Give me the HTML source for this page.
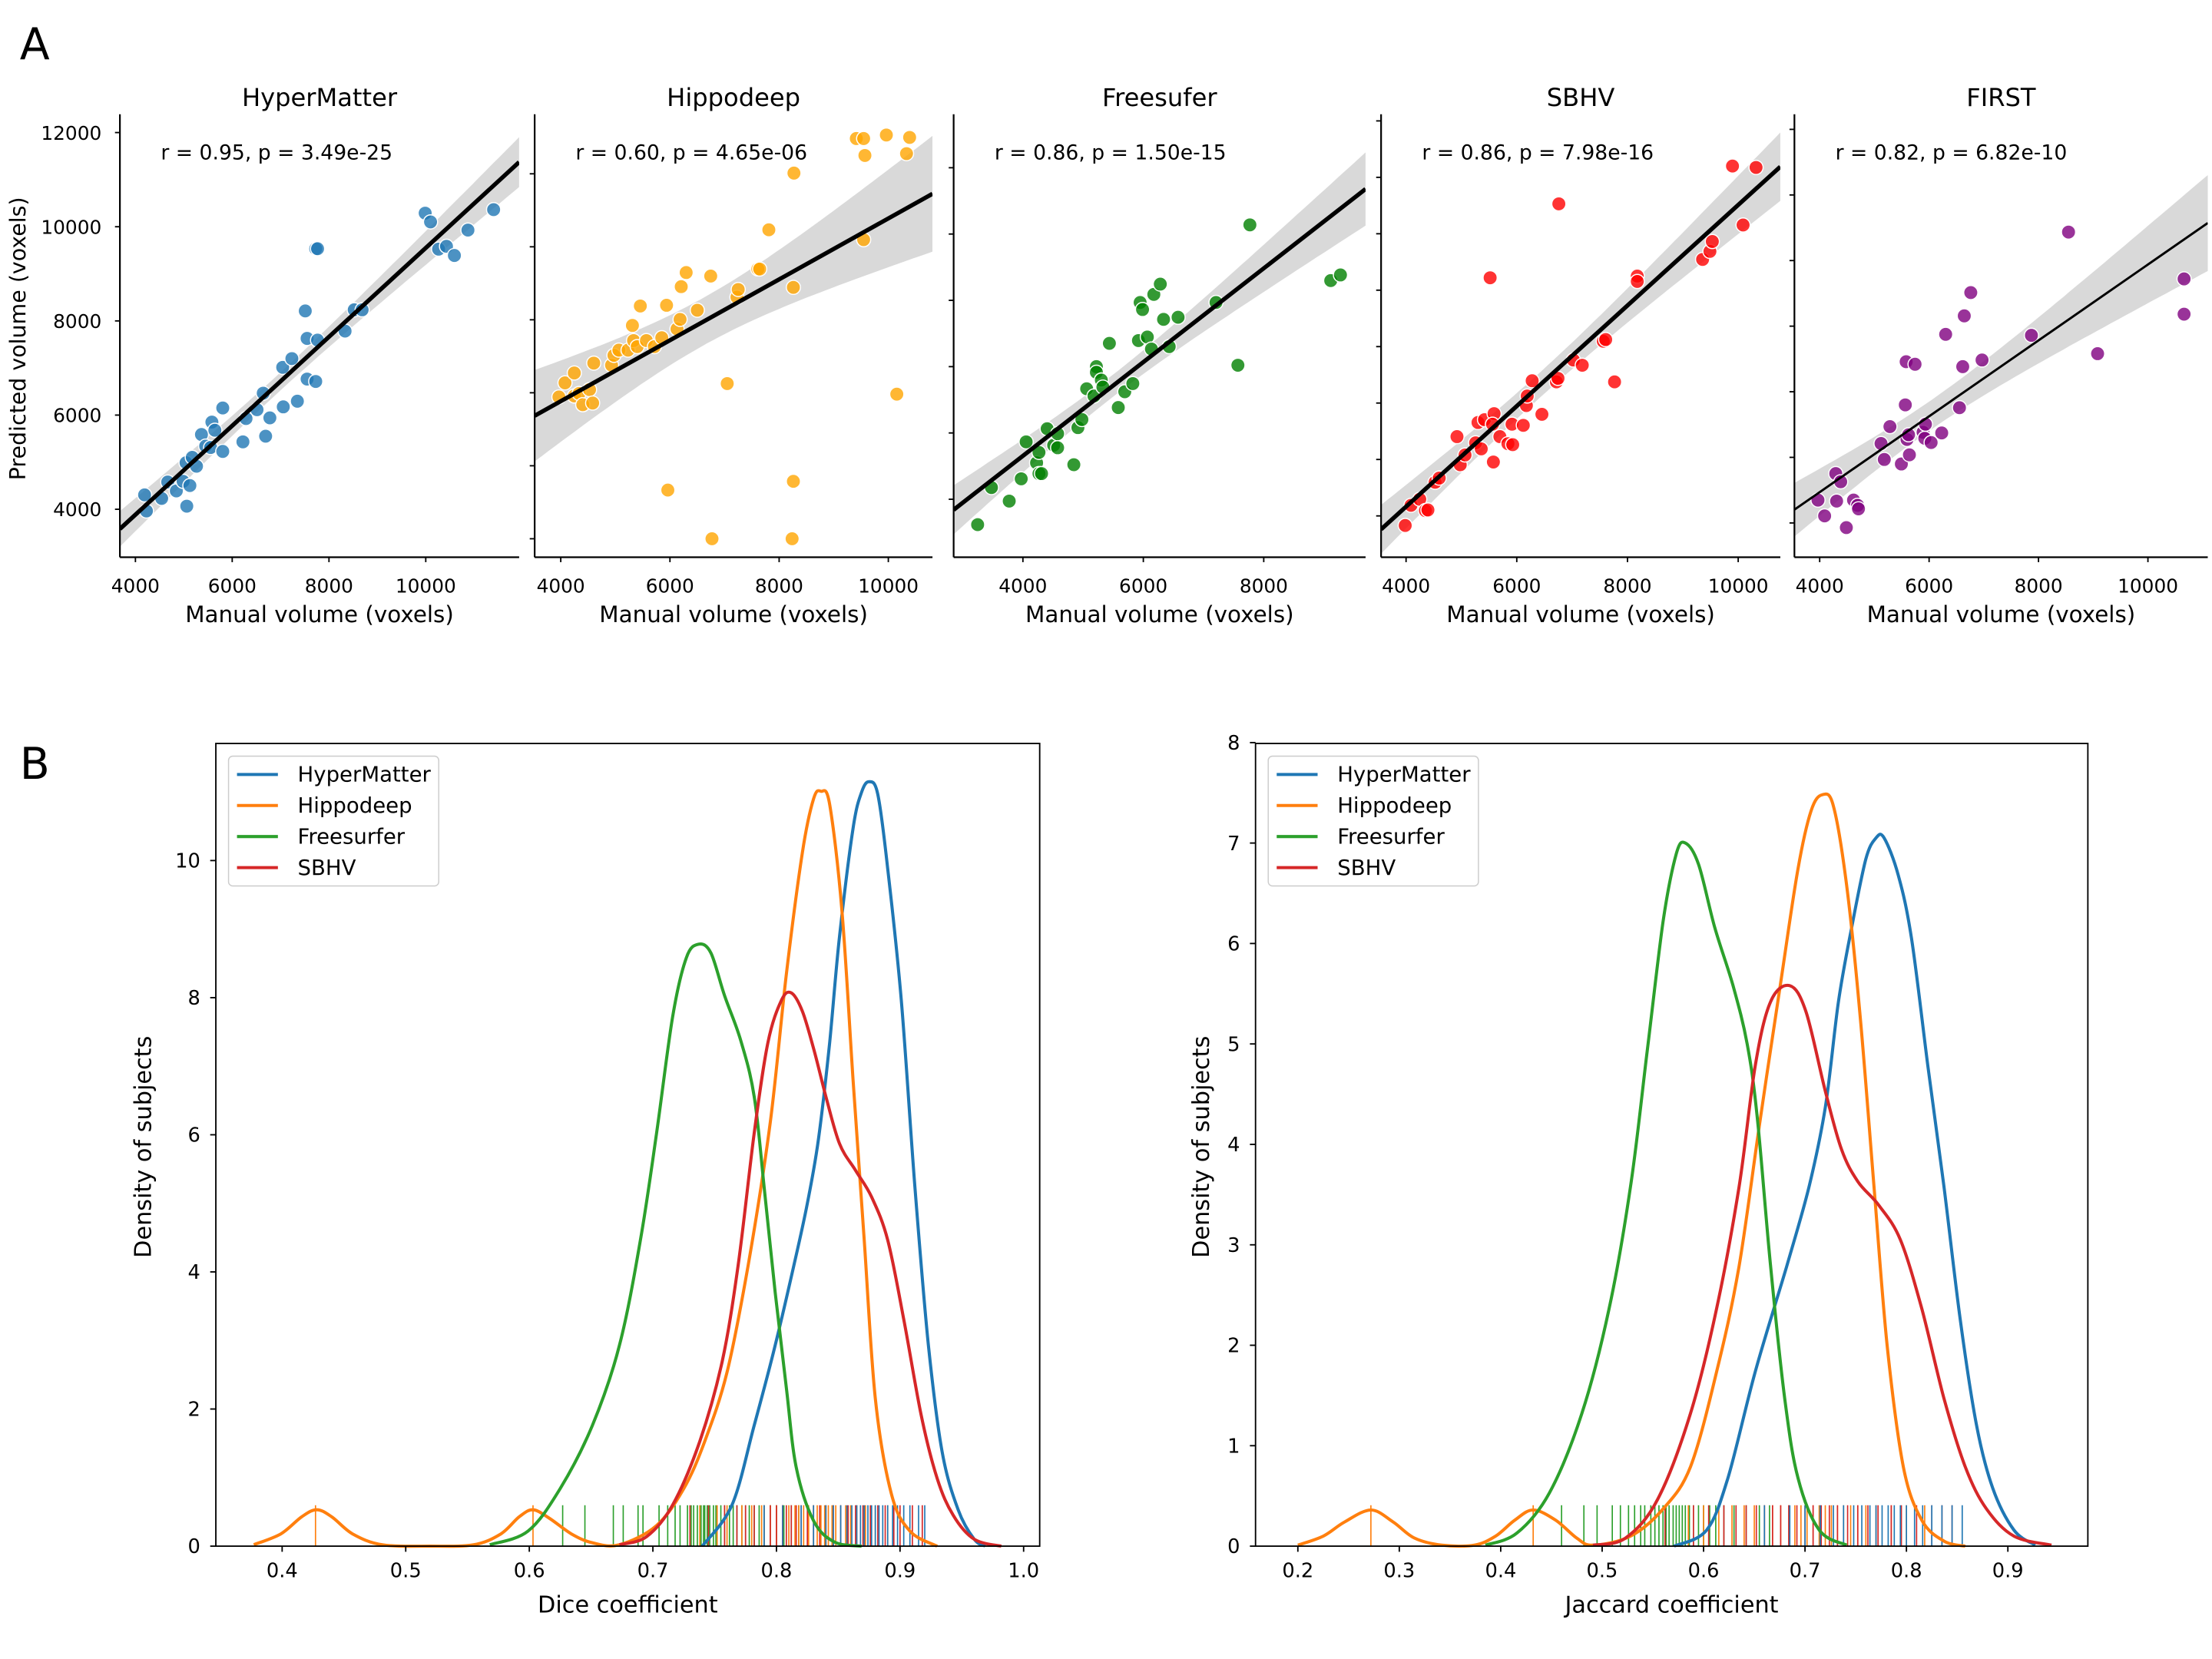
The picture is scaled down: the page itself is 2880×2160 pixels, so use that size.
<!DOCTYPE html>
<html><head><meta charset="utf-8">
<style>
html,body{margin:0;padding:0;background:#fff;}
svg{display:block;}
text{font-family:"DejaVu Sans","Liberation Sans",sans-serif;fill:#000;}
</style></head>
<body>
<svg id="fig" width="2880" height="2160" viewBox="0 0 1568 1176" xmlns="http://www.w3.org/2000/svg">
<rect width="1568" height="1176" fill="#fff"/>
<text x="14" y="42" font-size="31">A</text>
<text x="14" y="552" font-size="31">B</text>
<text transform="translate(18,240) rotate(-90)" text-anchor="middle" font-size="15.5">Predicted volume (voxels)</text>
<g id="pa"></g>
<g id="pb"></g>
</svg>
<script>
// ---------- Panel A data ----------
const titles=["HyperMatter","Hippodeep","Freesufer","SBHV","FIRST"];
const statsText=["r = 0.95, p = 3.49e-25","r = 0.60, p = 4.65e-06","r = 0.86, p = 1.50e-15","r = 0.86, p = 7.98e-16","r = 0.82, p = 6.82e-10"];
const hmX=[4190,4227,4543,4669,4846,4985,5061,5124,5048,5175,5263,5364,5453,5553,5579,5642,5806,5806,6223,6286,6513,6640,6690,6779,7044,7056,7233,7347,7511,7549,7549,7726,7764,7726,7764,8332,8521,8686,9987,10100,10264,10429,10593,10871,11401];
const hmY=[4307,3963,4232,4577,4390,4592,4067,4502,4990,5102,4915,5589,5342,5312,5852,5679,6151,5229,5432,5927,6114,6466,5552,5941,7013,6174,7201,6294,8213,6766,7628,6714,7591,9532,9532,7785,8235,8235,10289,10102,9525,9585,9390,9929,10364];
const hdX=[3966,4078,4247,4247,4336,4404,4527,4583,4605,4930,4975,5065,5233,5312,5334,5401,5457,5569,5715,5850,5939,6130,6186,6208,6298,6500,6746,7049,5962,6769,7228,7251,7610,7643,7811,8237,8260,8260,8271,9414,9549,9571,9549,9964,10154,10334,10390];
const hdY=[7884,8270,8541,7913,7981,7672,8087,7720,8812,8754,9024,9169,9169,9845,9430,9266,10377,9430,9266,9507,10396,9749,10010,10908,11295,10261,11198,8251,5333,4000,10618,10831,11391,11391,12464,4000,5575,10889,14020,14967,14967,14503,12193,15064,7961,14551,14996];
const fsX=[3248,3477,3772,3973,4054,4228,4268,4268,4309,4403,4510,4577,4577,4845,4913,4980,5060,5181,5221,5221,5302,5329,5584,5691,5825,5436,5919,6067,6134,5946,5986,6174,6281,6335,6577,6429,7207,7570,7771,9113,9274];
const fsY=[3617,4176,3973,4309,4867,4548,4707,4388,4388,5064,4814,4777,4989,4521,5080,5202,5665,5558,6000,5915,5798,5691,5383,5622,5745,6351,6394,6447,6266,6968,6862,7090,7245,6713,6745,6303,6968,6021,8138,7298,7383];
const sbX=[3985,4088,4248,4350,4394,4526,4599,4920,4978,5066,5256,5299,5358,5416,5591,5562,5577,5694,5840,5927,5913,6117,6175,6190,6278,6453,6716,6745,7022,7183,7562,7606,7767,8176,8176,5518,6759,9358,9490,9533,10088,9898,10322];
const sbY=[3831,4188,4294,4094,4106,4594,4669,5406,4906,5081,5294,5656,5188,5706,5813,5625,4956,5406,5281,5263,5625,5606,5956,6125,6394,5800,6375,6438,6763,6669,7094,7125,6375,8250,8156,8219,9531,8544,8688,8863,9156,10200,10175];
const fiX=[3970,4089,4295,4310,4384,4487,4620,4694,4709,5123,5182,5285,5492,5566,5595,5639,5625,5580,5743,5891,5920,5935,6038,6230,6304,6555,6614,6644,6762,6969,7870,8549,9081,10661,10661];
const fiY=[4349,4108,4753,4333,4629,3930,4349,4269,4215,5210,4968,5468,4898,5801,5274,5038,5344,6457,6419,5382,5290,5505,5226,5371,6876,5758,6382,7156,7511,6484,6860,8435,6581,7720,7183];
const yTickVals=[4000,6000,8000,10000,12000];
const xTickLabels=[["4000","6000","8000","10000"],["4000","6000","8000","10000"],["4000","6000","8000"],["4000","6000","8000","10000"],["4000","6000","8000","10000"]];

// ---------- Panel B data ----------
const methods=["HyperMatter","Hippodeep","Freesurfer","SBHV"];
const diceBlueX=[0.740,0.764,0.782,0.799,0.814,0.825,0.834,0.843,0.851,0.862,0.869,0.875,0.882,0.890,0.901,0.912,0.923,0.934,0.947,0.960,0.969];
const diceBlueY=[0,0.6,1.76,2.93,4.09,5.0,5.94,7.34,8.89,10.47,11.0,11.15,10.97,9.89,7.96,5.25,2.93,1.38,0.53,0.1,0];
const diceOrangeX=[0.377,0.399,0.416,0.428,0.440,0.457,0.481,0.52,0.555,0.577,0.592,0.603,0.616,0.634,0.651,0.673,0.703,0.725,0.742,0.760,0.777,0.795,0.808,0.821,0.830,0.836,0.843,0.853,0.862,0.871,0.880,0.893,0.908,0.930];
const diceOrangeY=[0.02,0.18,0.43,0.53,0.43,0.18,0.02,0,0.02,0.18,0.43,0.53,0.41,0.18,0.05,0.02,0.3,0.84,1.53,2.54,4.09,6.18,8.34,10.12,10.9,11.01,10.82,9.27,6.8,4.47,2.15,0.76,0.22,0];
const diceGreenX=[0.568,0.599,0.625,0.651,0.673,0.690,0.703,0.716,0.727,0.737,0.747,0.758,0.771,0.782,0.790,0.799,0.808,0.816,0.830,0.847,0.869];
const diceGreenY=[0.02,0.22,0.84,1.76,2.93,4.47,6.02,7.72,8.58,8.78,8.65,8.03,7.38,6.56,5.25,3.7,2.31,1.15,0.37,0.06,0];
const diceRedX=[0.673,0.695,0.716,0.738,0.756,0.769,0.782,0.793,0.804,0.812,0.821,0.830,0.840,0.851,0.864,0.877,0.890,0.903,0.917,0.930,0.943,0.960,0.982];
const diceRedY=[0.02,0.14,0.6,1.53,2.69,4.09,6.02,7.34,7.96,8.07,7.8,7.26,6.56,5.87,5.48,5.09,4.47,3.31,1.92,0.99,0.45,0.1,0];
const jacBlueX=[0.571,0.603,0.624,0.651,0.682,0.704,0.720,0.733,0.746,0.760,0.770,0.778,0.792,0.805,0.821,0.837,0.853,0.869,0.885,0.906,0.927];
const jacBlueY=[0,0.16,0.68,1.74,2.79,3.58,4.37,5.42,6.16,6.84,7.05,7.05,6.68,6.05,4.79,3.58,2.26,1.21,0.58,0.16,0.01];
const jacOrangeX=[0.2,0.225,0.246,0.272,0.294,0.315,0.342,0.374,0.395,0.414,0.432,0.454,0.475,0.491,0.528,0.560,0.587,0.613,0.635,0.656,0.677,0.693,0.706,0.717,0.728,0.741,0.754,0.768,0.781,0.797,0.815,0.837,0.858];
const jacOrangeY=[0.01,0.1,0.24,0.36,0.24,0.08,0.01,0.01,0.1,0.26,0.36,0.26,0.08,0.01,0.1,0.37,0.79,1.74,2.79,4.26,5.68,6.74,7.32,7.48,7.37,6.58,5.32,3.58,2.0,0.79,0.26,0.05,0];
const jacGreenX=[0.385,0.416,0.448,0.480,0.507,0.528,0.544,0.560,0.573,0.582,0.595,0.611,0.629,0.643,0.653,0.666,0.680,0.693,0.714,0.741];
const jacGreenY=[0.01,0.13,0.53,1.32,2.37,3.58,4.89,6.21,6.89,7.0,6.79,6.16,5.58,5.0,4.26,2.79,1.47,0.68,0.16,0.01];
const jacRedX=[0.491,0.523,0.555,0.587,0.613,0.635,0.651,0.666,0.685,0.701,0.720,0.736,0.752,0.773,0.794,0.815,0.837,0.858,0.879,0.906,0.943];
const jacRedY=[0.01,0.08,0.47,1.32,2.37,3.58,4.79,5.42,5.58,5.32,4.53,3.95,3.63,3.39,3.05,2.37,1.47,0.79,0.37,0.1,0.01];
const rugDiceGreen=[0.627,0.645,0.668,0.676,0.688,0.692,0.705,0.712,0.718,0.722,0.728,0.731,0.733,0.736,0.739,0.741,0.742,0.744,0.746,0.749,0.751,0.755,0.758,0.762,0.765,0.768,0.772,0.775,0.778,0.782,0.786,0.79,0.795,0.8,0.806,0.812,0.818];
const rugDiceOrange=[0.427,0.603,0.738,0.752,0.76,0.772,0.78,0.788,0.795,0.8,0.805,0.81,0.815,0.818,0.822,0.826,0.83,0.833,0.836,0.839,0.842,0.845,0.848,0.852,0.856,0.86,0.865,0.872,0.88,0.89];
const rugDiceRed=[0.73,0.745,0.758,0.768,0.775,0.782,0.79,0.795,0.8,0.805,0.808,0.812,0.816,0.82,0.825,0.83,0.835,0.84,0.846,0.852,0.858,0.864,0.87,0.876,0.882,0.888,0.895,0.9,0.91,0.918];
const rugDiceBlue=[0.79,0.805,0.82,0.83,0.84,0.846,0.852,0.857,0.861,0.865,0.868,0.871,0.874,0.877,0.88,0.883,0.886,0.89,0.894,0.898,0.903,0.908,0.915,0.92];
const rugJacGreen=[0.46,0.482,0.495,0.51,0.518,0.526,0.532,0.538,0.542,0.548,0.552,0.556,0.56,0.563,0.566,0.57,0.573,0.576,0.579,0.582,0.586,0.59,0.595,0.6,0.606,0.612,0.62,0.63,0.642,0.655,0.665];
const rugJacOrange=[0.272,0.432,0.585,0.6,0.615,0.628,0.64,0.65,0.66,0.668,0.676,0.684,0.69,0.696,0.702,0.708,0.714,0.72,0.726,0.732,0.738,0.745,0.752,0.76,0.77,0.785,0.8,0.818];
const rugJacRed=[0.562,0.59,0.605,0.62,0.632,0.642,0.652,0.66,0.668,0.676,0.684,0.692,0.7,0.708,0.716,0.724,0.732,0.742,0.752,0.762,0.772,0.785,0.795,0.81,0.825,0.835,0.845];
const rugJacBlue=[0.66,0.685,0.7,0.715,0.728,0.738,0.748,0.756,0.764,0.77,0.776,0.782,0.788,0.794,0.8,0.808,0.816,0.825,0.835,0.845,0.855];
const diceTicks=["0.4","0.5","0.6","0.7","0.8","0.9","1.0"];
const diceYTicks=["0","2","4","6","8","10"];
const jacTicks=["0.2","0.3","0.4","0.5","0.6","0.7","0.8","0.9"];
const jacYTicks=["0","1","2","3","4","5","6","7","8"];

const NS="http://www.w3.org/2000/svg";
function mk(tag,attrs,parent){const e=document.createElementNS(NS,tag);for(const k in attrs)e.setAttribute(k,attrs[k]);if(parent)parent.appendChild(e);return e;}

// ---------- Panel A ----------
const pa=document.getElementById('pa');
const panels=[
 {xs:hmX,ys:hmY,col:"#1f77b4",left:85,right:368,x0:96,xk:0.0343,y0:361,yk:0.03338,yStep:2000,lw:3},
 {xs:hdX,ys:hdY,col:"#ffa500",left:379,right:661,x0:397.5,xk:0.0387,y0:381.9,yk:0.02587,yStep:2000,lw:3},
 {xs:fsX,ys:fsY,col:"#008000",left:676,right:968,x0:725.1,xk:0.04268,y0:353.9,yk:0.0470,yStep:1000,lw:3},
 {xs:sbX,ys:sbY,col:"#ff0000",left:979,right:1262,x0:996.7,xk:0.03924,y0:365.7,yk:0.0400,yStep:1000,lw:3},
 {xs:fiX,ys:fiY,col:"#800080",left:1272,right:1565,x0:1289.9,xk:0.03878,y0:370.7,yk:0.0465,yStep:1000,lw:1.6}
];
const TOP=81,BOT=395;
panels.forEach((p,i)=>{
  const g=mk('g',{},pa);
  
  
  const X=v=>p.x0+(v-4000)*p.xk, Y=v=>p.y0-(v-4000)*p.yk;
  const vx=px=>4000+(px-p.x0)/p.xk;
  const cid='clip'+i;
  const cp=mk('clipPath',{id:cid},g);mk('rect',{x:p.left,y:TOP,width:p.right-p.left,height:BOT-TOP},cp);
  const n=p.xs.length;let mx=0,my=0;for(let k=0;k<n;k++){mx+=p.xs[k];my+=p.ys[k];}mx/=n;my/=n;
  let sxx=0,sxy=0;for(let k=0;k<n;k++){sxx+=(p.xs[k]-mx)**2;sxy+=(p.xs[k]-mx)*(p.ys[k]-my);}
  const b=sxy/sxx,a=my-b*mx;let sse=0;for(let k=0;k<n;k++){sse+=(p.ys[k]-a-b*p.xs[k])**2;}
  const s=Math.sqrt(sse/(n-2));
  const xa=vx(p.left),xb=vx(p.right);
  let up=[],lo=[];
  for(let k=0;k<=60;k++){const xv=xa+(xb-xa)*k/60;const se=2.02*s*Math.sqrt(1/n+(xv-mx)**2/sxx);const yv=a+b*xv;up.push(X(xv).toFixed(1)+','+Y(yv+se).toFixed(1));lo.unshift(X(xv).toFixed(1)+','+Y(yv-se).toFixed(1));}
  const band=mk('polygon',{points:up.concat(lo).join(' '),fill:'#d9d9d9','clip-path':'url(#'+cid+')'},g);
  
  
  for(let k=0;k<n;k++){
    const c=mk('circle',{cx:X(p.xs[k]).toFixed(1),cy:Y(p.ys[k]).toFixed(1),r:5,fill:p.col,'fill-opacity':0.8,stroke:'#fff','stroke-width':0.8,'clip-path':'url(#'+cid+')'},g);
    
    
  }
  const ln=mk('line',{x1:X(xa),y1:Y(a+b*xa),x2:X(xb),y2:Y(a+b*xb),stroke:'#000','stroke-width':p.lw,'clip-path':'url(#'+cid+')'},g);
  
  
  mk('line',{x1:p.left,y1:TOP,x2:p.left,y2:BOT,stroke:'#000','stroke-width':1.2},g);
  mk('line',{x1:p.left,y1:BOT,x2:p.right,y2:BOT,stroke:'#000','stroke-width':1.2},g);
  for(let v=2000;v<=16000;v+=p.yStep){const y=Y(v);if(y<TOP||y>BOT)continue;mk('line',{x1:p.left-3.5,y1:y,x2:p.left,y2:y,stroke:'#000','stroke-width':1},g);}
  if(i===0){yTickVals.forEach(v=>{const t=mk('text',{x:72,y:Y(v)+5,'text-anchor':'end','font-size':13.5},g);t.textContent=v;});}
  xTickLabels[i].forEach(lbl=>{const x=X(+lbl);mk('line',{x1:x,y1:BOT,x2:x,y2:BOT+3.5,stroke:'#000','stroke-width':1},g);const t=mk('text',{x:x,y:BOT+25,'text-anchor':'middle','font-size':13.5},g);t.textContent=lbl;});
  const cx=(p.left+p.right)/2;
  const tl=mk('text',{x:cx,y:75,'text-anchor':'middle','font-size':17.5},g);tl.textContent=titles[i];
  
  
  const xl=mk('text',{x:cx,y:441,'text-anchor':'middle','font-size':16},g);xl.textContent='Manual volume (voxels)';
  
  
  const st=mk('text',{x:p.left+29,y:113,'font-size':14.5},g);st.textContent=statsText[i];
  
  
});

// ---------- Panel B ----------
const pb=document.getElementById('pb');
const colors=["#1f77b4","#ff7f0e","#2ca02c","#d62728"];
function smooth(pts){let d='M'+pts[0][0].toFixed(1)+','+pts[0][1].toFixed(1);
 for(let i=0;i<pts.length-1;i++){const p0=pts[i-1]||pts[i],p1=pts[i],p2=pts[i+1],p3=pts[i+2]||p2;
  const c1=[p1[0]+(p2[0]-p0[0])/6,p1[1]+(p2[1]-p0[1])/6],c2=[p2[0]-(p3[0]-p1[0])/6,p2[1]-(p3[1]-p1[1])/6];
  d+='C'+c1[0].toFixed(1)+','+c1[1].toFixed(1)+' '+c2[0].toFixed(1)+','+c2[1].toFixed(1)+' '+p2[0].toFixed(1)+','+p2[1].toFixed(1);}
 return d;}
const kdePlots=[
 {left:153,right:737,top:527,bot:1096,x0:200,xv0:0.4,xk:876,yk:48.6,xt:diceTicks,yt:diceYTicks,ylab:107,xlab:'Dice coefficient',
  curves:[[diceBlueX,diceBlueY],[diceOrangeX,diceOrangeY],[diceGreenX,diceGreenY],[diceRedX,diceRedY]],
  rugs:[rugDiceGreen,rugDiceOrange,rugDiceRed,rugDiceBlue],rugCols:[2,1,3,0],name:'dice'},
 {left:890,right:1480,top:527,bot:1096,x0:920,xv0:0.2,xk:719,yk:71.2,xt:jacTicks,yt:jacYTicks,ylab:857,xlab:'Jaccard coefficient',
  curves:[[jacBlueX,jacBlueY],[jacOrangeX,jacOrangeY],[jacGreenX,jacGreenY],[jacRedX,jacRedY]],
  rugs:[rugJacGreen,rugJacOrange,rugJacRed,rugJacBlue],rugCols:[2,1,3,0],name:'jaccard'}
];
kdePlots.forEach(P=>{
  const g=mk('g',{},pb);
  
  
  const X=v=>P.x0+(v-P.xv0)*P.xk, Y=v=>P.bot-v*P.yk;
  P.rugs.forEach((arr,ri)=>{arr.forEach(v=>{const r=mk('line',{x1:X(v),y1:P.bot,x2:X(v),y2:P.bot-29,stroke:colors[P.rugCols[ri]],'stroke-width':0.9},g);});});
  P.curves.forEach((c,ci)=>{const pts=c[0].map((x,k)=>[X(x),Y(c[1][k])]);
    const pth=mk('path',{d:smooth(pts),fill:'none',stroke:colors[ci],'stroke-width':2.2,'stroke-linejoin':'round'},g);
    
    });
  mk('rect',{x:P.left,y:P.top,width:P.right-P.left,height:P.bot-P.top,fill:'none',stroke:'#000','stroke-width':1},g);
  P.xt.forEach(l=>{const x=X(+l);mk('line',{x1:x,y1:P.bot,x2:x,y2:P.bot+4,stroke:'#000','stroke-width':1},g);const t=mk('text',{x:x,y:P.bot+22,'text-anchor':'middle','font-size':14},g);t.textContent=l;});
  P.yt.forEach(l=>{const y=Y(+l);mk('line',{x1:P.left-4,y1:y,x2:P.left,y2:y,stroke:'#000','stroke-width':1},g);const t=mk('text',{x:P.left-11,y:y+5,'text-anchor':'end','font-size':14},g);t.textContent=l;});
  const xl=mk('text',{x:(P.left+P.right)/2,y:1143,'text-anchor':'middle','font-size':16.5},g);xl.textContent=P.xlab;
  
  
  const yl=mk('text',{transform:'translate('+P.ylab+',813) rotate(-90)','text-anchor':'middle','font-size':16.5},g);yl.textContent='Density of subjects';
  
  
  const lg=mk('g',{},g);
  
  
  const lx=P.left+9,ly=P.top+9;
  mk('rect',{x:lx,y:ly,width:149,height:92,rx:3,fill:'#fff','fill-opacity':0.8,stroke:'#ccc','stroke-width':0.8},lg);
  methods.forEach((m,k)=>{const yy=ly+13+k*22;
    const e=mk('g',{},lg);
    
    
    mk('line',{x1:lx+6,y1:yy,x2:lx+35,y2:yy,stroke:colors[k],'stroke-width':2.2},e);
    const t=mk('text',{x:lx+49,y:yy+5,'font-size':15},e);t.textContent=m;});
});
</script>
</body></html>
